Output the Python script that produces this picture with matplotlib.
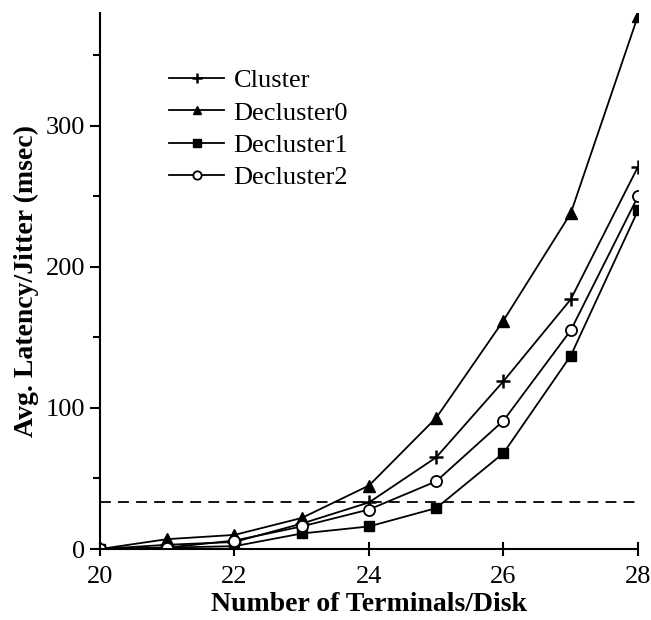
import matplotlib
matplotlib.use("Agg")
import matplotlib.pyplot as plt
from matplotlib.ticker import MultipleLocator

plt.rcParams['font.family'] = ['Liberation Serif', 'DejaVu Serif']

# 데이터
terminals = [20, 21, 22, 23, 24, 25, 26, 27, 28]
cluster = [0, 3, 5, 18, 33, 65, 119, 177, 271]
decluster0 = [0, 7, 10, 22, 45, 93, 162, 238, 378]
decluster1 = [0, 1, 2, 11, 16, 29, 68, 137, 240]
decluster2 = [0, 1, 6, 16, 28, 48, 91, 155, 250]
threshold = 33

fig = plt.figure(figsize=(6.51, 6.2), dpi=100)
ax = fig.add_axes([0.1536, 0.1145, 0.8264, 0.8645])

ax.plot(terminals, cluster, '-', color='black', lw=1.3, marker='+', ms=9.5,
        mew=1.8, label='Cluster')
ax.plot(terminals, decluster0, '-', color='black', lw=1.3, marker='^', ms=8,
        label='Decluster0')
ax.plot(terminals, decluster1, '-', color='black', lw=1.3, marker='s', ms=7.5,
        label='Decluster1')
ax.plot(terminals, decluster2, '-', color='black', lw=1.3, marker='o', ms=8,
        mfc='white', mew=1.3, label='Decluster2')
ax.plot([terminals[0], terminals[-1]], [threshold, threshold], '--',
        color='black', lw=1.3, dashes=(6, 4))

ax.set_xlim(20, 28)
ax.set_ylim(0, 380)
ax.xaxis.set_major_locator(MultipleLocator(2))
ax.yaxis.set_major_locator(MultipleLocator(100))
ax.yaxis.set_minor_locator(MultipleLocator(50))

for s in ['top', 'right']:
    ax.spines[s].set_visible(False)
for s in ['left', 'bottom']:
    ax.spines[s].set_linewidth(1.5)

ax.tick_params(axis='x', which='major', direction='inout', length=10,
               width=1.5, labelsize=19, pad=7)
ax.tick_params(axis='y', which='major', direction='out', length=7,
               width=1.5, labelsize=19)
ax.tick_params(axis='y', which='minor', direction='out', length=5, width=1.5)

ax.set_xlabel('Number of Terminals/Disk', fontsize=20, fontweight='bold',
              labelpad=3)
ax.set_ylabel('Avg. Latency/Jitter (msec)', fontsize=20, fontweight='bold',
              labelpad=5)

ax.legend(loc='upper left', bbox_to_anchor=(0.085, 0.94), frameon=False,
          fontsize=19, handlelength=2.05, handletextpad=0.38,
          labelspacing=0.33, markerscale=0.75)

plt.savefig('out.png', dpi=100)
plt.close()
